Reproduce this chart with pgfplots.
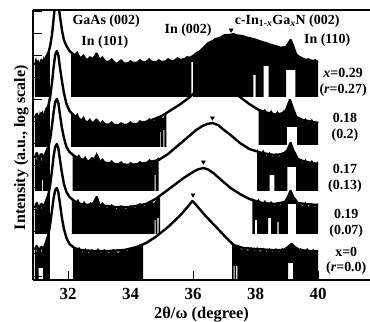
\documentclass[border=0pt]{standalone}
\usepackage{pgfplots}
\pgfplotsset{compat=1.18}
\usepackage{fontspec}
\setmainfont{Liberation Serif}
\pgfplotsset{
  env/.style={black, line width=2.4bp, mark=none, line join=round},
  noise/.style={fill=black, draw=none, mark=none, forget plot},
}
\tikzset{ann/.style={font=\bfseries\fontsize{14}{16}\selectfont, inner sep=0pt}}
\begin{document}
\begin{tikzpicture}
\begin{axis}[
  scale only axis, width=337bp, height=270bp,
  xmin=30.88, xmax=41.66, ymin=0, ymax=270,
  axis x line*=box, axis y line*=left,
  xtick={32,34,36,38,40}, xticklabels={32,34,36,38,40},
  xtick pos=bottom,
  ytick={4,26,48,70,92,114,136,158,180,202,224,246,268}, yticklabels={},
  ytick pos=left,
  tick align=inside, major tick length=9bp,
  tick style={black, line width=1bp},
  axis line style={black, line width=1.2bp},
  tick label style={font=\bfseries\fontsize{17}{20}\selectfont},
  xticklabel style={anchor=base, inner sep=0pt, yshift=-19bp},
  xlabel={2θ/ω\ (degree)},
  xlabel style={font=\bfseries\fontsize{16.5}{19}\selectfont, inner sep=0pt, at={(axis description cs:0.5,0)}, anchor=base, yshift=-38bp},
  ylabel={Intensity (a.u., log scale)},
  ylabel style={font=\bfseries\fontsize{16}{19}\selectfont, at={(axis description cs:-0.0237,0.49)}, anchor=base},
  clip mode=individual,
]
% ---------------- curve 1 (x=0.29) ----------------
\addplot[noise] coordinates {(30.94,220) (30.98,223) (31.02,216) (31.06,221) (31.1,214) (31.14,222) (31.18,218) (31.22,224) (31.27,219) (31.32,226) (31.37,228) (31.42,232) (31.42,183) (30.94,183)};
\addplot[noise] coordinates {(32.1,228) (32.2,226) (32.3,229) (32.4,223) (32.5,226) (32.6,221) (32.7,224) (32.8,222) (32.9,228) (33.0,221) (33.1,224) (33.25,218) (33.4,222) (33.55,217) (33.7,221) (33.85,216) (34.0,220) (34.15,217) (34.3,221) (34.45,218) (34.6,222) (34.75,217) (34.9,221) (35.05,218) (35.2,222) (35.35,219) (35.5,223) (35.65,220) (35.8,224) (35.95,223) (36.1,228) (36.25,230) (36.4,235) (36.55,238) (36.7,242) (36.85,243) (37.0,246) (37.15,246) (37.3,247) (37.45,245) (37.6,245) (37.75,243) (37.9,242) (38.05,241) (38.2,238) (38.35,238) (38.5,235) (38.65,235) (38.8,233) (38.95,234) (39.05,238) (39.12,241) (39.2,235) (39.3,227) (39.4,224) (39.5,223) (39.6,220) (39.7,222) (39.8,219) (39.9,221) (40.0,219)
 (40.0,183) (39.27,183) (39.27,210) (38.98,210) (38.98,183) (38.42,183) (38.42,214) (38.26,214) (38.26,183) (38.0,183) (38.0,205) (37.93,205) (37.93,183) (36.0,183) (36.0,218) (35.95,218) (35.95,183) (32.1,183)};
\addplot[env] coordinates {(30.94,215) (31.0,219) (31.08,214) (31.15,220) (31.22,217) (31.3,223) (31.37,227) (31.43,234) (31.49,246) (31.53,258) (31.57,271) (31.64,300) (31.71,271) (31.76,260) (31.81,249) (31.87,240) (31.95,234) (32.05,229) (32.2,225) (32.4,222) (32.6,220) (32.8,221) (32.92,226) (33.02,219) (33.3,218) (33.6,216) (34.1,217) (34.6,218) (35.0,218) (35.4,219) (35.6,220) (35.9,222) (36.2,228) (36.5,237) (36.85,242) (37.2,245) (37.5,244) (37.9,241) (38.3,237) (38.8,232) (38.99,233) (39.12,240) (39.2,234) (39.3,225) (39.5,221) (40.0,218)};
% ---------------- curve 2 (0.18) ----------------
\addplot[noise] coordinates {(30.94,166) (30.98,160) (31.02,168) (31.06,162) (31.1,169) (31.14,163) (31.18,170) (31.23,165) (31.28,172) (31.33,170) (31.38,177) (31.42,181) (31.42,133) (30.94,133)};
\addplot[noise] coordinates {(32.1,168) (32.2,163) (32.3,167) (32.4,160) (32.5,164) (32.6,158) (32.7,162) (32.8,157) (32.9,162) (33.0,156) (33.1,160) (33.25,155) (33.4,159) (33.55,154) (33.7,158) (33.85,155) (34.0,159) (34.15,155) (34.3,160) (34.45,157) (34.6,162) (34.75,159) (34.9,164) (35.05,162) (35.15,167)
 (35.15,133) (35.08,133) (35.08,150) (35.05,150) (35.05,133) (34.97,133) (34.97,148) (34.95,148) (34.95,133) (32.1,133)};
\addplot[noise] coordinates {(38.1,172) (38.2,168) (38.3,171) (38.4,166) (38.5,170) (38.6,165) (38.7,169) (38.8,165) (38.9,170) (38.95,169) (39.05,176) (39.1,181) (39.2,172) (39.3,164) (39.4,162) (39.5,159) (39.6,162) (39.7,157) (39.8,161) (39.9,156) (40.0,159)
 (40.0,135) (39.33,135) (39.33,153) (39.0,153) (39.0,135) (38.1,135)};
\addplot[env] coordinates {(30.94,162) (31.0,166) (31.08,161) (31.15,167) (31.22,164) (31.3,170) (31.37,174) (31.43,183) (31.49,198) (31.54,213) (31.59,225) (31.64,229) (31.69,225) (31.74,213) (31.8,200) (31.87,187) (31.95,176) (32.05,169) (32.2,164) (32.4,160) (32.6,158) (32.8,157) (32.92,160) (33.02,156) (33.4,155) (33.8,155) (34.2,156) (34.6,159) (35.0,164) (35.3,170) (35.6,176) (35.9,183) (36.2,192) (36.35,197) (36.5,200.5) (36.68,202) (36.85,201) (37.0,197.5) (37.2,191) (37.5,183) (37.8,176) (38.1,170) (38.4,167) (38.7,165) (38.95,168) (39.1,180) (39.2,171) (39.3,163) (39.5,160) (40.0,157)};
% ---------------- curve 3 (0.17) ----------------
\addplot[noise] coordinates {(30.94,125) (30.98,119) (31.02,128) (31.06,121) (31.1,127) (31.14,118) (31.18,126) (31.23,121) (31.28,129) (31.33,127) (31.38,134) (31.42,138) (31.42,89) (31.2,89) (31.2,100) (31.17,100) (31.17,89) (30.94,89)};
\addplot[noise] coordinates {(32.15,127) (32.25,122) (32.35,126) (32.45,120) (32.55,124) (32.65,119) (32.75,123) (32.85,122) (32.92,128) (33.0,118) (33.1,122) (33.25,116) (33.4,120) (33.55,115) (33.7,119) (33.85,114) (34.0,118) (34.15,115) (34.3,119) (34.45,116) (34.6,121) (34.75,118) (34.9,123)
 (34.9,89) (34.8,89) (34.8,105) (34.77,105) (34.77,89) (32.15,89)};
\addplot[noise] coordinates {(38.05,131) (38.15,126) (38.25,130) (38.35,124) (38.45,128) (38.55,123) (38.65,127) (38.75,123) (38.85,128) (38.95,127) (39.05,133) (39.12,138) (39.2,130) (39.3,123) (39.4,121) (39.5,117) (39.6,121) (39.7,116) (39.8,120) (39.9,115) (40.0,119)
 (40.0,89) (39.3,89) (39.3,113) (39.02,113) (39.02,89) (38.6,89) (38.6,105) (38.45,105) (38.45,89) (38.05,89)};
\addplot[env] coordinates {(30.94,122) (31.0,127) (31.08,120) (31.15,126) (31.22,122) (31.3,128) (31.37,133) (31.43,141) (31.49,155) (31.54,168) (31.59,178) (31.64,181) (31.69,177) (31.74,166) (31.8,153) (31.87,142) (31.95,133) (32.05,128) (32.2,124) (32.4,121) (32.6,119) (32.8,119) (32.92,125) (33.02,118) (33.5,116) (34.0,115) (34.5,117) (34.9,120) (35.2,126) (35.5,134) (35.8,142) (36.1,150) (36.3,154) (36.45,156) (36.62,157) (36.8,155) (36.95,151) (37.2,145) (37.5,137) (37.8,131) (38.2,127) (38.6,125) (38.9,126) (39.02,130) (39.12,137) (39.2,130) (39.35,121) (39.6,118) (40.0,116)};
% ---------------- curve 4 (0.19) ----------------
\addplot[noise] coordinates {(30.94,75) (30.98,69) (31.02,78) (31.06,71) (31.1,77) (31.14,70) (31.18,76) (31.23,72) (31.28,80) (31.33,79) (31.38,86) (31.42,90) (31.42,46) (30.94,46)};
\addplot[noise] coordinates {(32.12,82) (32.22,77) (32.32,81) (32.42,75) (32.52,79) (32.62,74) (32.72,78) (32.82,76) (32.92,84) (33.0,74) (33.1,78) (33.25,72) (33.4,76) (33.55,71) (33.7,75) (33.85,71) (34.0,75) (34.15,72) (34.3,77) (34.45,74) (34.6,79) (34.75,77) (34.9,83) (34.95,82)
 (34.95,46) (34.9,46) (34.9,62) (34.86,62) (34.86,46) (34.8,46) (34.8,60) (34.77,60) (34.77,46) (32.12,46)};
\addplot[noise] coordinates {(37.9,82) (38.0,78) (38.1,81) (38.2,76) (38.3,80) (38.4,75) (38.5,79) (38.6,74) (38.7,78) (38.8,75) (38.9,79) (38.98,80) (39.05,85) (39.12,90) (39.2,84) (39.3,78) (39.4,77) (39.5,74) (39.6,78) (39.7,73) (39.8,77) (39.9,73) (40.0,77)
 (40.0,46) (39.3,46) (39.3,76) (39.03,76) (39.03,46) (38.74,46) (38.74,58) (38.7,58) (38.7,46) (38.5,46) (38.5,62) (38.4,62) (38.4,46) (38.05,46) (38.05,60) (37.98,60) (37.98,46) (37.9,46)};
\addplot[env] coordinates {(30.94,72) (31.0,77) (31.08,70) (31.15,76) (31.22,73) (31.3,79) (31.37,85) (31.43,95) (31.49,110) (31.54,124) (31.59,133) (31.64,136) (31.69,132) (31.74,121) (31.8,108) (31.87,96) (31.95,88) (32.05,83) (32.2,79) (32.4,76) (32.6,75) (32.8,76) (32.92,83) (33.0,75) (33.5,73) (34.0,73) (34.5,76) (34.8,81) (35.1,88) (35.4,95) (35.7,102) (36.0,108) (36.15,110.5) (36.33,112) (36.48,110.5) (36.65,107) (36.9,100) (37.2,92) (37.5,86) (37.8,81) (38.2,77) (38.6,76) (38.95,78) (39.05,84) (39.12,89) (39.2,83) (39.35,77) (39.6,76) (40.0,75)};
% ---------------- curve 5 (x=0) ----------------
\addplot[noise] coordinates {(30.94,33) (30.98,27) (31.02,35) (31.06,28) (31.1,34) (31.14,27) (31.18,33) (31.23,30) (31.28,38) (31.33,40) (31.38,47) (31.42,52) (31.42,0) (31.2,0) (31.2,12) (31.06,12) (31.06,0) (30.94,0)};
\addplot[noise] coordinates {(32.16,35) (32.26,30) (32.36,33) (32.46,28) (32.56,32) (32.66,27) (32.76,31) (32.86,28) (32.96,32) (33.06,27) (33.16,31) (33.3,27) (33.45,31) (33.6,27) (33.75,31) (33.9,29) (34.05,33) (34.2,32) (34.3,36) (34.4,35) (34.4,0) (32.16,0)};
\addplot[noise] coordinates {(37.25,38) (37.35,33) (37.45,35) (37.55,30) (37.65,33) (37.75,29) (37.85,33) (37.95,29) (38.05,33) (38.15,28) (38.25,32) (38.35,28) (38.45,32) (38.55,28) (38.65,32) (38.75,28) (38.85,32) (38.95,30) (39.05,35) (39.15,37) (39.25,34) (39.35,30) (39.45,32) (39.55,28) (39.65,32) (39.75,28) (39.85,31) (39.95,28) (40.0,30)
 (40.0,0) (39.2,0) (39.2,17) (39.04,17) (39.04,0) (37.42,0) (37.42,14) (37.38,14) (37.38,0) (37.33,0) (37.33,14) (37.3,14) (37.3,0) (37.25,0)};
\addplot[env] coordinates {(30.94,30) (31.0,34) (31.08,28) (31.15,33) (31.22,31) (31.3,38) (31.37,45) (31.43,56) (31.49,70) (31.54,82) (31.59,90) (31.64,92) (31.69,88) (31.74,77) (31.8,63) (31.87,51) (31.95,42) (32.05,36) (32.2,32) (32.4,30) (32.8,29) (33.3,29) (33.8,30) (34.2,33) (34.5,37) (34.8,43) (35.2,53) (35.6,65) (35.85,74) (35.98,79) (36.1,75) (36.4,64) (36.8,51) (37.1,41) (37.3,35) (37.6,32) (38.0,31) (38.5,30) (38.9,30) (39.05,33) (39.15,36) (39.25,33) (39.4,30) (39.7,29) (40.0,29)};
% ---------------- peak markers ----------------
\addplot[only marks, mark=triangle*, mark size=2.3bp, mark options={rotate=180, fill=black, draw=black}] coordinates {(37.22,250) (36.68,207) (36.62,162) (36.33,118) (36.0,85)};
% ---------------- annotations ----------------
\node[ann] at (axis cs:33.22,259) {GaAs (002)};
\node[ann] at (axis cs:33.18,238) {In (101)};
\node[ann] at (axis cs:35.84,250) {In (002)};
\node[ann] at (axis cs:39.01,259) {c-In\textsubscript{1-\textit{x}}Ga\textsubscript{\textit{x}}N (002)};
\node[ann] at (axis cs:40.29,240) {In (110)};
\node[ann] at (axis cs:40.80,207) {\textit{x}=0.29};
\node[ann] at (axis cs:40.80,190) {(\textit{r}=0.27)};
\node[ann] at (axis cs:40.86,162) {0.18};
\node[ann] at (axis cs:40.86,145) {(0.2)};
\node[ann] at (axis cs:40.86,111) {0.17};
\node[ann] at (axis cs:40.86,94) {(0.13)};
\node[ann] at (axis cs:40.90,66) {0.19};
\node[ann] at (axis cs:40.90,49) {(0.07)};
\node[ann] at (axis cs:40.90,28) {x=0};
\node[ann] at (axis cs:40.90,12) {(\textit{r}=0.0)};
\end{axis}
\pgfresetboundingbox
\path[use as bounding box] ([shift={(-33bp,-42bp)}]current axis.south west) rectangle ([shift={(0bp,10bp)}]current axis.north east);
\end{tikzpicture}
\end{document}
